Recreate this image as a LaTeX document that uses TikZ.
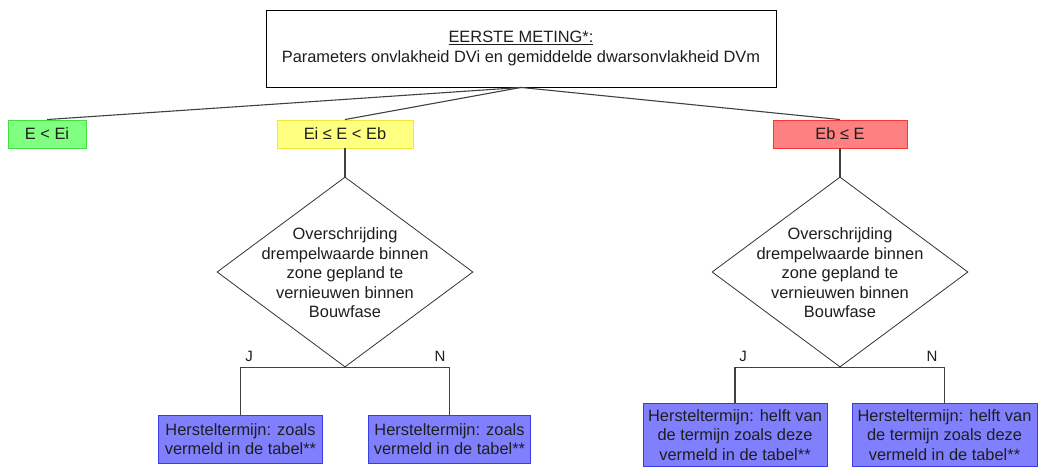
\documentclass[tikz,border=0pt]{standalone}
\usepackage{fontspec}
\setmainfont{Liberation Sans}
\usetikzlibrary{shapes.geometric}
\definecolor{gfill}{RGB}{128,255,128}
\definecolor{gline}{RGB}{64,224,64}
\definecolor{yfill}{RGB}{255,255,128}
\definecolor{yline}{RGB}{240,230,60}
\definecolor{rfill}{RGB}{255,128,128}
\definecolor{rline}{RGB}{255,50,50}
\definecolor{bfill}{RGB}{128,128,255}
\definecolor{bline}{RGB}{60,60,230}
\definecolor{txt}{RGB}{30,30,30}
\begin{document}
\begin{tikzpicture}[x=1pt,y=-1pt,
  every node/.style={font=\fontsize{16.4}{19.5}\selectfont, inner sep=0pt, text=txt},
  box/.style={draw, rectangle, line width=0.9pt, align=center},
  topbox/.style={box, draw=black, fill=white},
  gbox/.style={box, draw=gline, fill=gfill, minimum height=28pt},
  ybox/.style={box, draw=yline, fill=yfill, minimum height=28pt},
  rbox/.style={box, draw=rline, fill=rfill, minimum height=28pt},
  bbox/.style={box, draw=bline, fill=bfill},
  dec/.style={draw=black!80, diamond, line width=0.8pt, minimum width=256pt, minimum height=190pt},
  dtext/.style={align=center},
  yn/.style={font=\fontsize{15}{18}\selectfont},
  conn/.style={draw=black!75, line width=1.1pt}
]
\useasboundingbox (0,0) rectangle (1042,468);

\node[topbox, minimum width=510pt, minimum height=77pt] (top) at (521,48.5)
  {\underline{EERSTE METING*:}\\Parameters onvlakheid DVi en gemiddelde dwarsonvlakheid DVm};

\node[gbox, minimum width=78pt] (ga) at (47,134) {E < Ei};
\node[ybox, minimum width=136pt] (ya) at (345,134) {Ei ≤ E < Eb};
\node[rbox, minimum width=134pt] (ra) at (840,134) {Eb ≤ E};

\node[dec] (d1) at (345,272) {};
\node[dtext] (t1) at (345,273) {Overschrijding\\drempelwaarde binnen\\zone gepland te\\vernieuwen binnen\\Bouwfase};
\node[dec] (d2) at (840,272) {};
\node[dtext] (t2) at (840,273) {Overschrijding\\drempelwaarde binnen\\zone gepland te\\vernieuwen binnen\\Bouwfase};

\node[yn] (j1) at (249,356) {J};
\node[yn] (n1) at (440,356) {N};
\node[yn] (j2) at (743,356) {J};
\node[yn] (n2) at (932,356) {N};

\node[bbox, minimum width=164pt, minimum height=48pt] (b1) at (240.5,439) {Hersteltermijn: zoals\\vermeld in de tabel**};
\node[bbox, minimum width=162pt, minimum height=48pt] (b2) at (449.5,439) {Hersteltermijn: zoals\\vermeld in de tabel**};
\node[bbox, minimum width=184pt, minimum height=63pt] (b3) at (735,435) {Hersteltermijn: helft van\\de termijn zoals deze\\vermeld in de tabel**};
\node[bbox, minimum width=185pt, minimum height=63pt] (b4) at (944.5,435) {Hersteltermijn: helft van\\de termijn zoals deze\\vermeld in de tabel**};

\draw[conn] (top.south) -- (ga.north);
\draw[conn] (top.south) -- (ya.north);
\draw[conn] (top.south) -- (ra.north);
\draw[conn] (ya.south) -- (d1.north);
\draw[conn] (ra.south) -- (d2.north);
\draw[conn] (d1.south) -| (b1.north);
\draw[conn] (d1.south) -| (b2.north);
\draw[conn] (d2.south) -| (b3.north);
\draw[conn] (d2.south) -| (b4.north);
\end{tikzpicture}
\end{document}
